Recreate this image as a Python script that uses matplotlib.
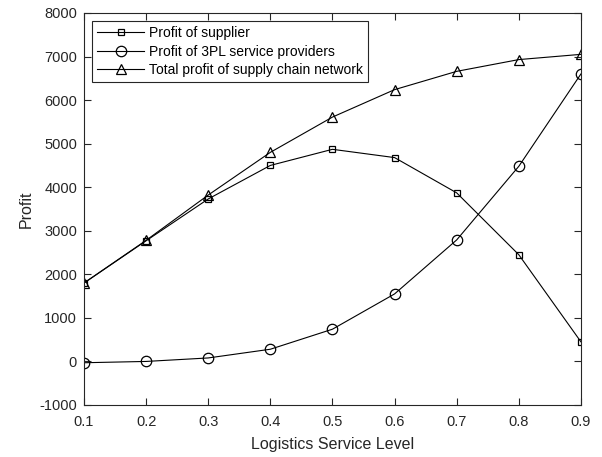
import matplotlib.pyplot as plt

plt.rcParams['font.family'] = ['Liberation Sans', 'DejaVu Sans']
plt.rcParams['axes.unicode_minus'] = False

level = [0.1, 0.2, 0.3, 0.4, 0.5, 0.6, 0.7, 0.8, 0.9]
supplier = [1800, 2770, 3730, 4500, 4870, 4680, 3870, 2450, 450]
tpl = [-30, 0, 80, 280, 740, 1550, 2790, 4480, 6600]
total = [1800, 2780, 3820, 4800, 5610, 6240, 6660, 6930, 7050]

fig = plt.figure(figsize=(6.02, 4.57), dpi=100)
ax = fig.add_axes([0.1395, 0.1138, 0.8255, 0.8578])

kw = dict(color='black', linewidth=0.8, markerfacecolor='none', markeredgewidth=0.9)
ax.plot(level, supplier, marker='s', markersize=5, label='Profit of supplier', **kw)
ax.plot(level, tpl, marker='o', markersize=7.5, label='Profit of 3PL service providers', **kw)
ax.plot(level, total, marker='^', markersize=7.5, label='Total profit of supply chain network', **kw)

ax.set_xlim(0.1, 0.9)
ax.set_ylim(-1000, 8000)
ax.set_xticks(level)
ax.set_xticklabels([f'{v:.1f}' for v in level])
ax.set_yticks(range(-1000, 8001, 1000))
ax.tick_params(direction='in', top=True, right=True, labelsize=10.5, colors='#262626', length=5)
ax.tick_params(axis='x', pad=7)
ax.tick_params(axis='y', pad=5)
for s in ax.spines.values():
    s.set_color('#262626')
    s.set_linewidth(0.8)

ax.set_xlabel('Logistics Service Level', fontsize=11.5, color='#262626', labelpad=6)
ax.set_ylabel('Profit', fontsize=11.5, color='#262626')

leg = ax.legend(loc='upper left', fontsize=10, fancybox=False, framealpha=1,
                edgecolor='#262626', handlelength=3.4, handletextpad=0.35,
                borderpad=0.35, labelspacing=0.32, borderaxespad=0.6)
leg.get_frame().set_linewidth(0.8)

plt.savefig('out.png', dpi=100)
